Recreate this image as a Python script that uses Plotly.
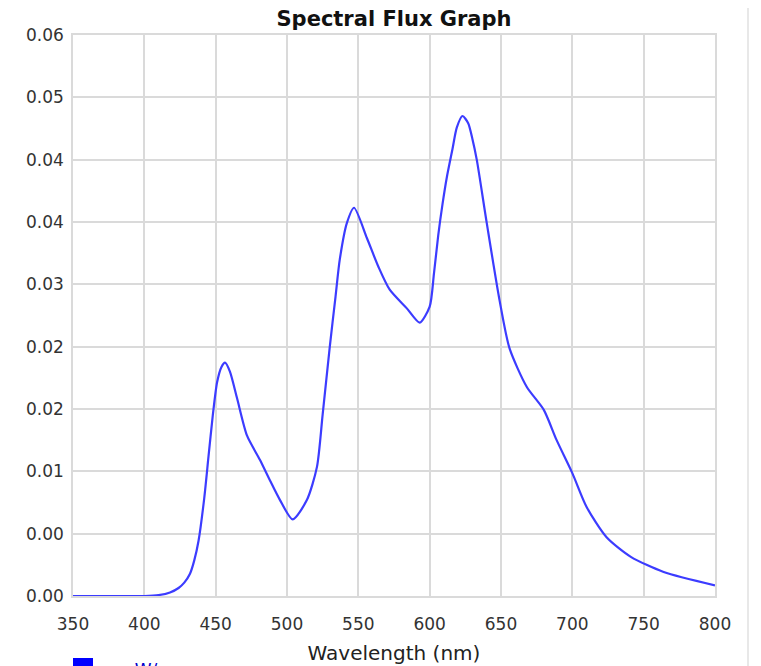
import plotly.graph_objects as go

wavelength = [350, 400, 410, 418, 424, 428, 432, 435, 438, 442, 445, 448, 451, 454, 456.6, 460, 465, 472,
              481, 488, 495, 504, 514, 521, 525, 530, 534, 537, 542, 547, 556, 564, 572, 584, 593, 600, 603,
              606, 609, 612, 616, 619, 623, 627, 630, 633, 640, 649, 656, 668, 680, 689, 700, 710, 724, 741,
              764, 800]
flux = [0.0, 0.0, 0.0001, 0.0004, 0.0009, 0.0015, 0.0025, 0.0040, 0.0062, 0.0110, 0.0157, 0.0203, 0.0240,
        0.0257, 0.0262, 0.0252, 0.0222, 0.0180, 0.0153, 0.0130, 0.0108, 0.0086, 0.0108, 0.0145, 0.0204,
        0.0280, 0.0336, 0.0378, 0.0419, 0.0436, 0.0402, 0.0370, 0.0344, 0.0323, 0.0307, 0.0325, 0.0362,
        0.0405, 0.0440, 0.0470, 0.0502, 0.0526, 0.0539, 0.0531, 0.0513, 0.0490, 0.0419, 0.0332, 0.0278,
        0.0235, 0.0209, 0.0175, 0.0138, 0.0100, 0.0066, 0.0044, 0.0027, 0.0012]

x_ticks = [350, 400, 450, 500, 550, 600, 650, 700, 750, 800]
y_ticks = [0, 0.007, 0.014, 0.021, 0.028, 0.035, 0.042, 0.049, 0.056, 0.063]
y_ticktext = ["0.00", "0.00", "0.01", "0.02", "0.02", "0.03", "0.04", "0.04", "0.05", "0.06"]

grid = "#dadada"
font = "DejaVu Sans"

# figure is placed inside the page body's 8px margin
W, H = 753, 658
L, T, R, B = 65, 27, 46, 70
PW, PH = W - L - R, H - T - B

fig = go.Figure()
fig.add_trace(go.Scatter(x=wavelength, y=flux, mode="lines",
                         line=dict(color="#3c3cff", width=2.2, shape="spline", smoothing=0.7),
                         name="uW/nm", showlegend=False, hoverinfo="x+y"))

fig.update_layout(
    width=W, height=H,
    margin=dict(l=L, r=R, t=T, b=B, autoexpand=False),
    paper_bgcolor="white", plot_bgcolor="white",
    title=dict(text="<b>Spectral Flux Graph</b>", x=(L + PW / 2) / W, xanchor="center",
               y=1 - 11 / H, yanchor="middle",
               font=dict(family=font, size=21, color="#111")),
    xaxis=dict(range=[350, 800], tickvals=x_ticks, showgrid=True, gridcolor=grid, gridwidth=1.5,
               showline=True, linecolor=grid, linewidth=1.5, mirror=True, zeroline=False,
               ticks="", ticklabelstandoff=12, automargin=False,
               tickfont=dict(family=font, size=17, color="#333"),
               title=dict(text="Wavelength (nm)", standoff=13,
                          font=dict(family=font, size=20, color="#222"))),
    yaxis=dict(range=[0, 0.063], tickvals=y_ticks, ticktext=y_ticktext, showgrid=True,
               gridcolor=grid, gridwidth=1.5, showline=True, linecolor=grid, linewidth=1.5,
               mirror=True, zeroline=False, ticks="", ticklabelstandoff=4, automargin=False,
               tickfont=dict(family=font, size=17, color="#333")),
)

# legend swatch (cut off at bottom, as in the source image)
fig.add_shape(type="rect", xref="paper", yref="paper",
              x0=0, x1=20 / PW, y0=-(H + 2 - (T + PH)) / PH, y1=-(650 - (T + PH)) / PH,
              fillcolor="#0000ff", line=dict(width=0))
fig.add_annotation(text="uW/nm", xref="paper", yref="paper", x=49 / PW,
                   y=-(650 - (T + PH)) / PH, xanchor="left", yanchor="top", showarrow=False,
                   font=dict(family=font, size=17, color="#0000cc"))
# right panel border
fig.add_shape(type="line", xref="paper", yref="paper", x0=(740 - L) / PW, x1=(740 - L) / PW,
              y0=-0.2, y1=1.1, line=dict(color="#e0e0e0", width=1.5))

fig.write_html("out.html")
